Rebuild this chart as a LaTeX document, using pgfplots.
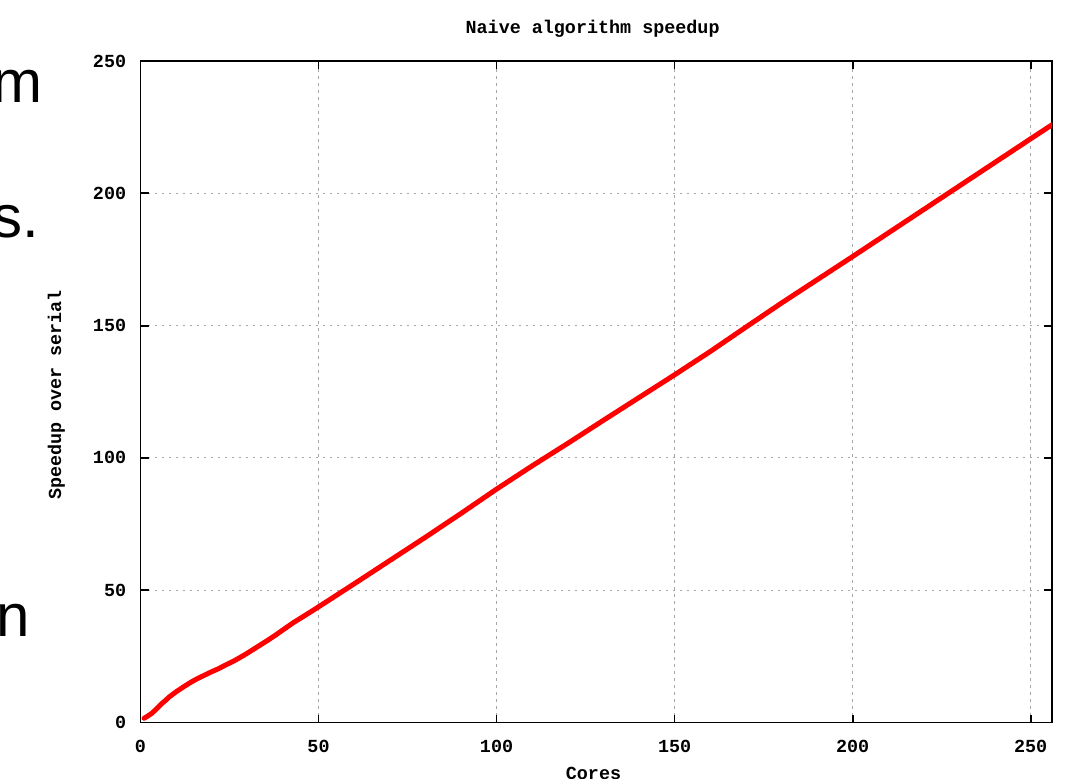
\documentclass[border=0pt]{standalone}
\usepackage{fontspec}
\usepackage{pgfplots}
\pgfplotsset{compat=1.18}
\setmainfont{Liberation Sans}
\newfontfamily\gpfont{Liberation Mono}
\newcommand\gp{\gpfont\bfseries\fontsize{9.2}{10}\selectfont}
\begin{document}
\begin{tikzpicture}
\begin{axis}[
  scale only axis, width=455.75pt, height=330.75pt,
  xmin=0, xmax=256, ymin=0, ymax=250,
  xtick={0,50,...,250}, ytick={0,50,...,250},
  grid=major,
  major grid style={gray!70, line width=0.55pt, dash pattern=on 1.4pt off 2.1pt},
  axis line style={line width=0.9pt, black},
  tick align=inside, major tick length=4pt,
  tick style={black, line width=0.9pt},
  xtick pos=both, ytick pos=both,
  /pgf/number format/assume math mode=true,
  ticklabel style={font=\gp},
  xticklabel style={anchor=base, inner sep=0pt, yshift=-14.75pt},
  yticklabel style={anchor=east, inner sep=0pt, xshift=-7pt},
  every axis title shift=0pt,
  title={Naive algorithm speedup},
  title style={font=\gp, at={(axis description cs:0.496,1.0423)}, anchor=base, inner sep=0pt},
  xlabel={Cores},
  xlabel style={font=\gp, at={(axis description cs:0.497,-0.0869)}, anchor=base, inner sep=0pt},
  ylabel={Speedup over serial},
  ylabel style={font=\gp, at={(axis description cs:-0.0872,0.495)}, anchor=base, inner sep=0pt},
]
\coordinate (ll) at (rel axis cs:0,0);
\coordinate (ur) at (rel axis cs:1,1);
\addplot[red, line width=2.5pt, line join=round, line cap=round, no markers] coordinates {
(1,1.6)(2,2.4)(3,3.3)(4,4.5)(5,5.8)(6,7.2)(7,8.3)(8,9.6)(10,11.6)(12,13.4)(14,15.1)
(16,16.6)(18,17.9)(20,19.2)(22,20.4)(24,21.8)(26,23.1)(28,24.6)(30,26.2)(32,27.9)
(34,29.6)(36,31.3)(38,33.1)(40,35)(43,37.8)(46,40.3)(50,43.7)(60,52.4)
(70,61.2)(80,70)(90,79)(100,88.2)(110,97)(120,105.5)(130,114.2)(140,122.8)
(150,131.4)(160,140.2)(170,149.4)(180,158.5)(190,167.3)(200,176.1)(210,185)
(220,193.9)(230,202.8)(240,211.7)(250,220.6)(256,225.9)
};
\end{axis}
\node[anchor=base east, inner sep=0pt, font=\fontsize{30}{30}\selectfont] at ([shift={(-48.75pt,309.75pt)}]ll) {m};
\node[anchor=base east, inner sep=0pt, font=\fontsize{30}{30}\selectfont] at ([shift={(-50.25pt,242.75pt)}]ll) {s.};
\node[anchor=base east, inner sep=0pt, font=\fontsize{30}{30}\selectfont] at ([shift={(-55.25pt,43.25pt)}]ll) {n};
\pgfresetboundingbox
\path[use as bounding box] ([shift={(-70.25pt,-27.75pt)}]ll) rectangle ([shift={(11pt,30.5pt)}]ur);
\end{tikzpicture}
\end{document}
